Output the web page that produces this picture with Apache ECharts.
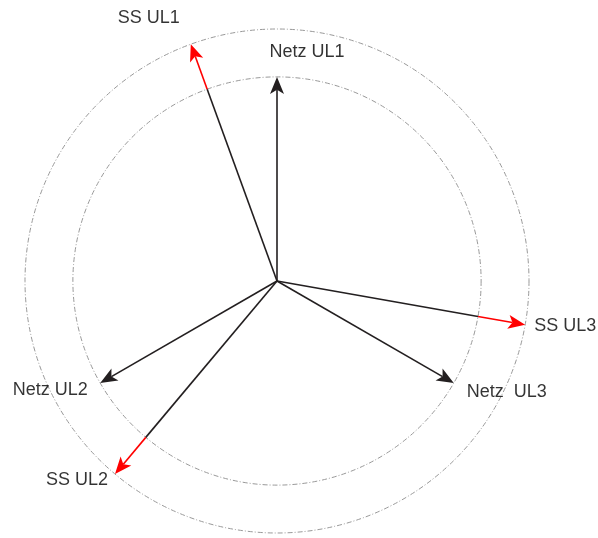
<!DOCTYPE html>
<html>
<head>
<meta charset="utf-8">
<script src="https://cdn.jsdelivr.net/npm/echarts@6/dist/echarts.min.js"></script>
<style>
  html, body { margin: 0; padding: 0; background: #fff; }
  #chart { width: 598px; height: 538px; }
</style>
</head>
<body>
<div id="chart"></div>
<script>
// phasors: magnitude (relative) and angle in degrees (counter-clockwise from 3 o'clock)
var netzNames = ['Netz UL1', 'Netz UL2', 'Netz  UL3'];
var netzMagnitude = [81, 81, 81];
var netzAngle = [90, 210, 330];

var ssNames = ['SS UL1', 'SS UL2', 'SS UL3'];
var ssMagnitude = [100, 100, 100];
var ssAngle = [110, 230, 350];

// reference rings
var innerRing = 81;
var outerRing = 100;

// label placement relative to arrow tip (px)
var netzLabelOffset = [[30, -25], [-50, 7], [53, 9]];
var ssLabelOffset = [[-42, -26], [-38, 6], [40, 1]];

var black = '#231f20';
var red = '#ff0000';
var headLen = 17, headWidth = 14, notch = 0.76;

// item: [r0, angle, r1, hasArrow]
function renderVector(color) {
  return function (params, api) {
    var a = api.value(1);
    var p0 = api.coord([api.value(0), a]);
    var p1 = api.coord([api.value(2), a]);
    var dx = p1[0] - p0[0], dy = p1[1] - p0[1];
    var len = Math.sqrt(dx * dx + dy * dy);
    var ux = dx / len, uy = dy / len, nx = -uy, ny = ux;
    var hasArrow = api.value(3) === 1;
    var end = hasArrow ? [p1[0] - ux * headLen * notch, p1[1] - uy * headLen * notch] : p1;
    var children = [{
      type: 'line',
      shape: { x1: p0[0], y1: p0[1], x2: end[0], y2: end[1] },
      style: { stroke: color, lineWidth: 1.6 }
    }];
    if (hasArrow) {
      var bx = p1[0] - ux * headLen, by = p1[1] - uy * headLen;
      var w = headWidth / 2;
      children.push({
        type: 'polygon',
        shape: { points: [
          [p1[0], p1[1]],
          [bx + nx * w, by + ny * w],
          [p1[0] - ux * headLen * notch, p1[1] - uy * headLen * notch],
          [bx - nx * w, by - ny * w]
        ] },
        style: { fill: color, stroke: null }
      });
    }
    return { type: 'group', children: children };
  };
}

var blackData = [], redData = [];
netzNames.forEach(function (n, i) {
  blackData.push([0, netzAngle[i], netzMagnitude[i], 1]);
});
ssNames.forEach(function (n, i) {
  blackData.push([0, ssAngle[i], innerRing, 0]);
  redData.push([innerRing, ssAngle[i], ssMagnitude[i], 1]);
});

var labelData = [];
netzNames.forEach(function (n, i) {
  labelData.push({ name: n, value: [netzMagnitude[i], netzAngle[i]], label: { offset: netzLabelOffset[i] } });
});
ssNames.forEach(function (n, i) {
  labelData.push({ name: n, value: [ssMagnitude[i], ssAngle[i]], label: { offset: ssLabelOffset[i] } });
});

var chart = echarts.init(document.getElementById('chart'));
chart.setOption({
  animation: false,
  backgroundColor: '#fff',
  polar: { center: [277, 281], radius: 252 },
  angleAxis: {
    type: 'value',
    min: 0,
    max: 360,
    startAngle: 0,
    clockwise: false,
    axisLine: { show: false },
    axisTick: { show: false },
    axisLabel: { show: false },
    splitLine: { show: false }
  },
  radiusAxis: {
    type: 'value',
    min: 0,
    max: outerRing,
    interval: innerRing,
    axisLine: { show: false },
    axisTick: { show: false },
    axisLabel: { show: false },
    splitLine: { show: true, lineStyle: { color: '#999', width: 1, type: [5, 2, 1, 2] } }
  },
  series: [
    {
      type: 'custom',
      coordinateSystem: 'polar',
      renderItem: renderVector(black),
      data: blackData,
      clip: false,
      silent: true
    },
    {
      type: 'custom',
      coordinateSystem: 'polar',
      renderItem: renderVector(red),
      data: redData,
      clip: false,
      silent: true
    },
    {
      type: 'scatter',
      coordinateSystem: 'polar',
      symbolSize: 1,
      itemStyle: { color: 'rgba(0,0,0,0)' },
      silent: true,
      data: labelData,
      label: {
        show: true,
        position: 'inside',
        formatter: '{b}',
        color: '#000',
        fontSize: 18,
        fontFamily: 'Liberation Sans, Arial, sans-serif',
        align: 'center',
        verticalAlign: 'middle'
      }
    }
  ]
});
</script>
</body>
</html>
